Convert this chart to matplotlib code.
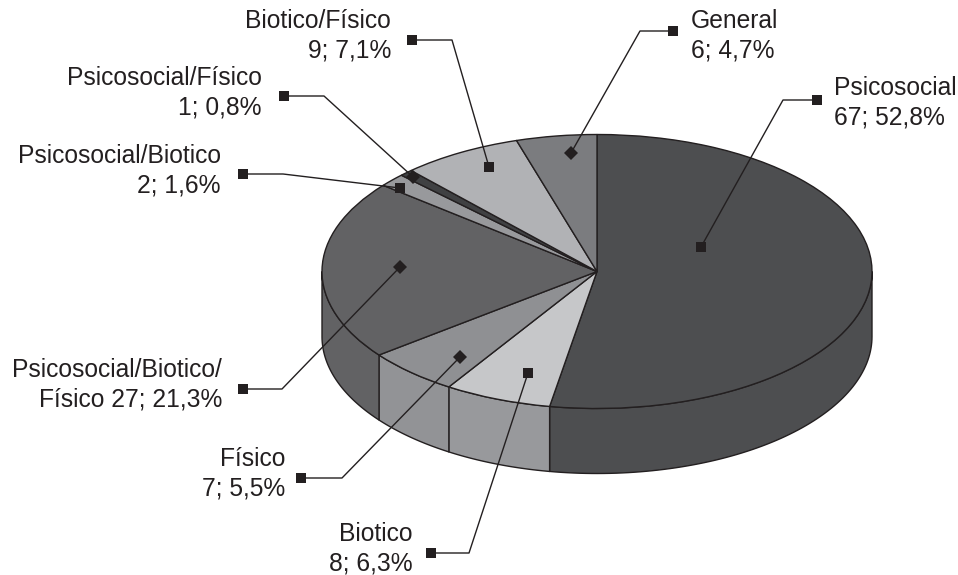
import numpy as np
import matplotlib
matplotlib.use('Agg')
import matplotlib.pyplot as plt

categories = ['Psicosocial', 'Biotico', 'Físico', 'Psicosocial/Biotico/\nFísico', 'Psicosocial/Biotico',
              'Psicosocial/Físico', 'Biotico/Físico', 'General']
values = [67, 8, 7, 27, 2, 1, 9, 6]
percents = ['52,8', '6,3', '5,5', '21,3', '1,6', '0,8', '7,1', '4,7']

top_colors = ['#4d4e50', '#c6c7c9', '#8f9093', '#626264', '#98999c', '#404143', '#b1b2b5', '#7b7c7f']
side_colors = ['#4d4e50', '#98999c', '#929396', '#626264', '#98999c', '#404143', '#b1b2b5', '#7b7c7f']

# layout in picture pixels (x, y from top)
W, H = 958, 575
CX, CY, RX, RY, DEPTH = 597, 271.5, 275, 137, 65
label_pos = [(834, 103, 'left'), (413, 549, 'right'), (285, 474, 'right'), (222, 385, 'right'),
             (221, 171, 'right'), (262, 93, 'right'), (391, 36, 'right'), (691, 36, 'left')]
leaders = [[(817, 100), (783, 100), (701, 247)],
           [(431, 553), (469, 553), (528, 373)],
           [(301, 478), (342, 478), (460, 357)],
           [(243, 389), (282, 389), (400, 267)],
           [(243, 174), (283, 174), (400, 188)],
           [(284, 96), (324, 96), (413, 177)],
           [(412, 40), (452, 40), (489, 167)],
           [(673, 31), (640, 31), (571, 153)]]
end_markers = ['s', 's', 'D', 'D', 's', 'D', 's', 'D']

INK = '#231f20'
k = RX / RY


def px(x, y):
    return x, (H - y) * k


fig = plt.figure(figsize=(W / 100, H / 100), dpi=100)
ax = fig.add_axes([0, 0, 1, 1])

wedges, _ = ax.pie(values, colors=top_colors, startangle=90, counterclock=False, radius=RX,
                   center=px(CX, CY), wedgeprops=dict(edgecolor=INK, linewidth=1.0, zorder=3))
ax.set_aspect('auto')
ax.set_xlim(0, W)
ax.set_ylim(0, H * k)
ax.axis('off')

# side wall, only the front half of the disc shows
cx, cy = px(CX, CY)
for w, c in zip(wedges, side_colors):
    t1, t2 = max(w.theta1, -180), min(w.theta2, 0)
    if t2 <= t1:
        continue
    t = np.radians(np.linspace(t1, t2, 80))
    xs = cx + RX * np.cos(t)
    ys = cy + RX * np.sin(t)
    ax.fill(np.r_[xs, xs[::-1]], np.r_[ys, ys[::-1] - DEPTH * k], facecolor=c,
            edgecolor=INK, linewidth=1.0, zorder=2)

for name, v, p, (x, y, ha) in zip(categories, values, percents, label_pos):
    sep = ' ' if '\n' in name else '\n'
    ax.text(*px(x, y), f'{name}{sep}{v}; {p}%', ha=ha, va='center', multialignment=ha,
            family='Liberation Sans', fontsize=17.7, color=INK, linespacing=1.28, zorder=5)

for pts, m in zip(leaders, end_markers):
    xy = np.array([px(*q) for q in pts])
    ax.plot(xy[:, 0], xy[:, 1], color=INK, lw=1.0, zorder=4, clip_on=False)
    ax.plot(*xy[0], 's', color=INK, ms=6.5, mew=0, zorder=5)
    ax.plot(*xy[2], m, color=INK, ms=6.5 if m == 's' else 7.5, mew=0, zorder=5)

fig.savefig('out.png', dpi=100)
